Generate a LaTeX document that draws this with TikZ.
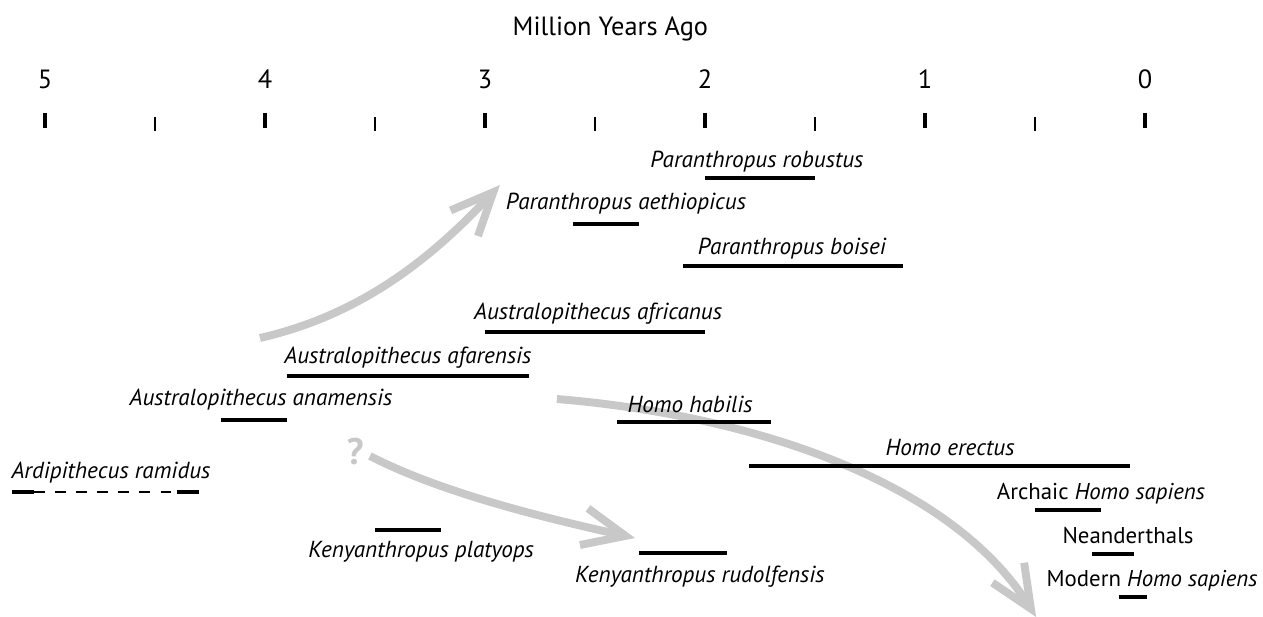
\documentclass[tikz,border=0pt]{standalone}
\usepackage{fontspec}
\setmainfont{PT Sans}
\usetikzlibrary{arrows.meta}

\definecolor{arrowgray}{RGB}{200,200,200}

\tikzset{
  bar/.style={line width=2.8pt},
  species/.style={font=\fontsize{13.2pt}{15pt}\selectfont\itshape, inner sep=0pt},
  plain/.style={font=\fontsize{13pt}{15pt}\selectfont, inner sep=0pt},
  axislabel/.style={font=\fontsize{15pt}{17pt}\selectfont, inner sep=0pt},
  grayarrow/.style={arrowgray, line width=4.5pt,
    -{Straight Barb[length=0.85cm,width=0.75cm]}}
}

\begin{document}
\begin{tikzpicture}[x=-4.4cm, y=-1cm]

\useasboundingbox (5.2045,0) rectangle (-0.5364,12.32);

% time axis
\node[axislabel] (title) at (2.43,0.58) {Million Years Ago};
\foreach \t in {0,...,5} {
  \node[axislabel] (num\t) at (\t,1.58) {\t};
  \draw[line width=1.8pt] (\t,2.26) -- (\t,2.56);
}
\foreach \t in {0.5,1.5,2.5,3.5,4.5}
  \draw[line width=0.8pt] (\t,2.34) -- (\t,2.62);

% lineages
\coordinate (a1s) at (4.023,6.76);
\coordinate (a1e) at (2.932,3.70);
\draw[grayarrow] (a1s) .. controls (3.568,6.30) and (3.25,5.2) .. (a1e);

\node[font=\fontsize{21pt}{23pt}\selectfont\bfseries, text=arrowgray, inner sep=0pt] (qmark) at (3.59,9.04) {?};
\coordinate (a2s) at (3.523,9.12);
\coordinate (a2e) at (2.318,10.76);
\draw[grayarrow] (a2s) .. controls (3.205,9.84) and (2.75,10.34) .. (a2e);

\coordinate (a3s) at (2.673,7.98);
\coordinate (a3e) at (0.495,12.34);
\draw[grayarrow] (a3s) .. controls (1.795,8.3) and (0.886,9.6) .. (a3e);

% species ranges
\draw[bar] (2.0,3.56) -- (1.5,3.56);
\node[species] (robustus) at (1.764,3.24) {Paranthropus robustus};

\draw[bar] (2.6,4.48) -- (2.3,4.48);
\node[species] (aethiopicus) at (2.359,4.08) {Paranthropus aethiopicus};

\draw[bar] (2.1,5.32) -- (1.1,5.32);
\node[species] (boisei) at (1.605,4.98) {Paranthropus boisei};

\draw[bar] (3.0,6.64) -- (2.0,6.64);
\node[species] (africanus) at (2.486,6.28) {Australopithecus africanus};

\draw[bar] (3.9,7.52) -- (2.8,7.52);
\node[species] (afarensis) at (3.35,7.16) {Australopithecus afarensis};

\draw[bar] (4.2,8.40) -- (3.9,8.40);
\node[species] (anamensis) at (4.018,8.0) {Australopithecus anamensis};

\draw[bar] (2.4,8.44) -- (1.7,8.44);
\node[species] (habilis) at (2.068,8.08) {Homo habilis};

\draw[bar] (1.8,9.32) -- (0.07,9.32);
\node[species] (erectus) at (0.886,8.96) {Homo erectus};

\draw[bar] (5.15,9.84) -- (5.05,9.84);
\draw[line width=1pt, dash pattern=on 6pt off 6pt] (5.05,9.84) -- (4.4,9.84);
\draw[bar] (4.4,9.84) -- (4.3,9.84);
\node[species] (ramidus) at (4.7,9.46) {Ardipithecus ramidus};

\draw[bar] (3.5,10.6) -- (3.2,10.6);
\node[species] (platyops) at (3.29,11.04) {Kenyanthropus platyops};

\draw[bar] (2.3,11.06) -- (1.9,11.06);
\node[species] (rudolfensis) at (2.023,11.54) {Kenyanthropus rudolfensis};

\draw[bar] (0.5,10.2) -- (0.2,10.2);
\node[plain] (archaic) at (0.2,9.88) {Archaic \textit{Homo sapiens}};

\draw[bar] (0.24,11.08) -- (0.05,11.08);
\node[plain] (neander) at (0.077,10.72) {Neanderthals};

\draw[bar] (0.12,11.94) -- (-0.01,11.94);
\node[plain] (modern) at (-0.032,11.62) {Modern \textit{Homo sapiens}};

\end{tikzpicture}
\end{document}
